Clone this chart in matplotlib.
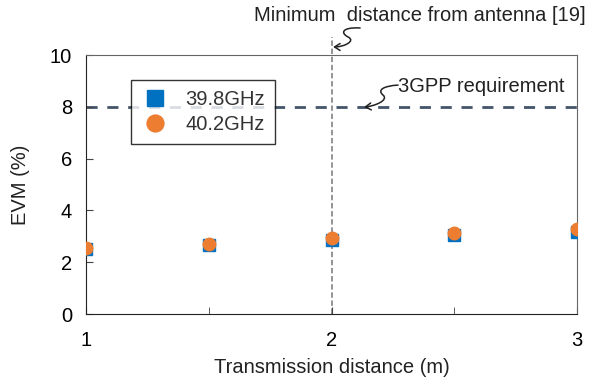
import matplotlib
matplotlib.use("Agg")
import matplotlib.pyplot as plt
from matplotlib.path import Path
from matplotlib.patches import FancyArrowPatch
from matplotlib.transforms import ScaledTranslation

plt.rcParams['font.family'] = ['Liberation Sans', 'DejaVu Sans']

distance = [1, 1.5, 2, 2.5, 3]
evm_398 = [2.51, 2.65, 2.86, 3.05, 3.18]
evm_402 = [2.56, 2.70, 2.92, 3.12, 3.28]
req_3gpp = 8
min_dist = 2

fs = 14.5
fig = plt.figure(figsize=(5.89, 3.82), dpi=100)
ax = fig.add_axes([0.146, 0.178, 0.834, 0.678])

ax.axhline(req_3gpp, color='#44546A', lw=2, ls=(0, (4, 3.5)), zorder=1)
ax.plot([min_dist, min_dist], [0, 10.7], color='#8c8c8c', lw=1.3, ls=(0, (3, 1.5)),
        clip_on=False, zorder=1)

ax.plot(distance, evm_398, 's', color='#0070C0', ms=8.5, label='39.8GHz', zorder=3)
ax.plot(distance, evm_402, 'o', color='#ED7D31', ms=9, label='40.2GHz', zorder=4)

ax.set_xlim(1, 3)
ax.set_ylim(0, 10)
ax.set_xticks([1, 2, 3])
ax.set_xticks([1.5, 2.5], minor=True)
ax.set_yticks(range(0, 11, 2))
ax.tick_params(axis='both', direction='in', labelsize=fs, length=5, color='#444444')
ax.tick_params(axis='x', which='minor', direction='in', length=5, color='#444444')
ax.tick_params(axis='x', pad=12)
ax.tick_params(axis='y', pad=10)
ax.set_xlabel('Transmission distance (m)', fontsize=fs, color='#222222', labelpad=6)
ax.set_ylabel('EVM (%)', fontsize=fs, color='#222222', labelpad=14)
for s in ['top', 'right']:
    ax.spines[s].set_color('#666666')
for s in ['left', 'bottom']:
    ax.spines[s].set_color('#222222')

leg = ax.legend(loc='upper left', bbox_to_anchor=(0.092, 0.903), borderaxespad=0,
                fontsize=fs, frameon=True, fancybox=False, edgecolor='black',
                borderpad=0.5, handletextpad=0.8, labelspacing=0.3,
                handlelength=1.4, markerscale=1.35)
leg.get_frame().set_linewidth(1.0)
for t in leg.get_texts():
    t.set_color('#333333')

ax.text(2.36, 11.54, 'Minimum  distance from antenna [19]', fontsize=fs,
        ha='center', va='center', color='#222222')
ax.text(2.61, 8.8, '3GPP requirement', fontsize=fs, ha='center', va='center',
        color='#222222')


def squiggle(x, y, pts):
    tr = fig.dpi_scale_trans + ScaledTranslation(x, y, ax.transData)
    codes = [Path.MOVETO] + [Path.CURVE4] * (len(pts) - 1)
    p = FancyArrowPatch(path=Path(pts, codes), arrowstyle='->,head_length=4,head_width=2.5',
                        color='#222222', lw=1.1, transform=tr, clip_on=False)
    ax.add_patch(p)


squiggle(2.002, 10.31, [(0.28, 0.19), (0.10, 0.20), (0.08, 0.14), (0.16, 0.10),
                        (0.24, 0.06), (0.12, 0.00), (0.01, 0.0)])
squiggle(2.128, 7.99, [(0.35, 0.22), (0.20, 0.21), (0.14, 0.17), (0.20, 0.12),
                       (0.26, 0.07), (0.12, 0.01), (0.01, 0.0)])

fig.savefig('out.png', dpi=100)
